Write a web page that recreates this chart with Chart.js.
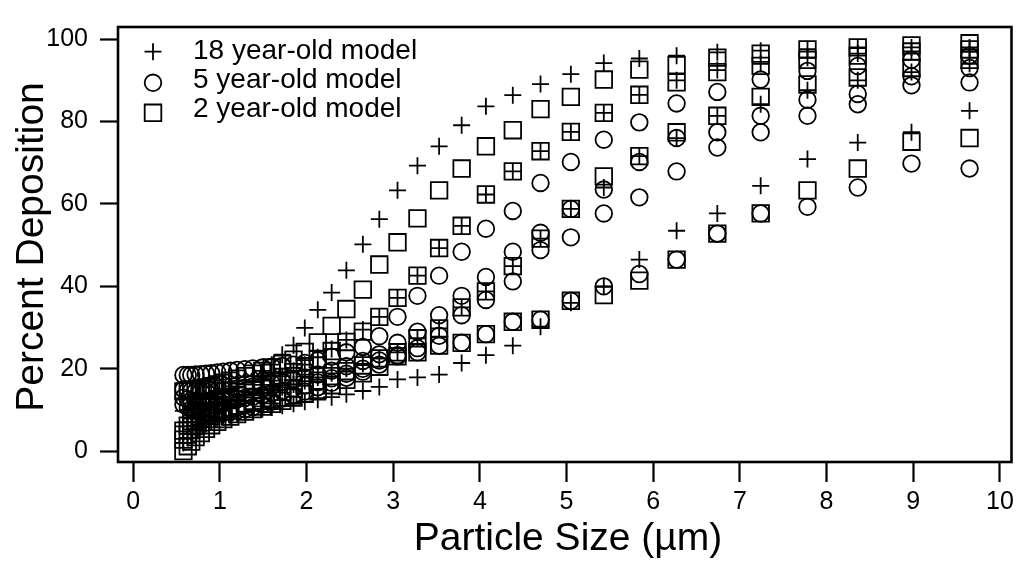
<!DOCTYPE html>
<html>
<head>
<meta charset="utf-8">
<script src="https://cdn.jsdelivr.net/npm/chart.js"></script>
<style>
  html, body { margin: 0; padding: 0; background: #fff; }
  #wrap { width: 1025px; height: 577px; }
</style>
</head>
<body>
<div id="wrap"><canvas id="depChart" width="1025" height="577"></canvas></div>
<script>
// particle sizes (um), same grid for every curve
const sizes = [0.58, 0.63, 0.67, 0.72, 0.78, 0.84, 0.90, 0.97, 1.04, 1.12, 1.20, 1.29, 1.38, 1.49, 1.60, 1.72, 1.85, 1.98, 2.13, 2.29, 2.46, 2.65, 2.84, 3.05, 3.28, 3.53, 3.79, 4.07, 4.38, 4.70, 5.05, 5.43, 5.84, 6.27, 6.74, 7.24, 7.78, 8.36, 8.98, 9.65];

// 18 year-old model (+)
const adultA = [12.8, 13.0, 13.2, 13.4, 13.6, 13.9, 14.2, 14.6, 15.1, 15.7, 16.4, 17.2, 18.2, 19.5, 21.0, 23.4, 25.7, 29.9, 34.3, 38.5, 43.9, 50.2, 56.3, 63.3, 69.3, 74.0, 79.1, 83.7, 86.4, 89.1, 91.5, 94.2, 95.3, 96.0, 96.8, 97.2, 97.6, 97.8, 98.0, 98.0];
const adultB = [9.8, 10.0, 10.3, 10.6, 10.9, 11.3, 11.7, 12.1, 12.6, 13.2, 13.8, 14.5, 15.2, 16.1, 17.1, 18.2, 19.5, 21.0, 22.8, 24.8, 27.0, 29.5, 32.6, 37.2, 42.6, 49.3, 54.7, 62.3, 67.9, 72.8, 77.5, 82.1, 86.5, 90.0, 92.5, 94.0, 95.5, 96.5, 97.0, 97.5];
const adultC = [6.0, 7.0, 7.9, 8.7, 9.4, 10.0, 10.6, 11.1, 11.6, 12.1, 12.6, 13.1, 13.6, 14.2, 14.8, 15.5, 16.2, 17.0, 17.9, 18.9, 20.0, 21.2, 22.5, 24.0, 27.4, 29.8, 34.9, 38.8, 44.9, 51.6, 58.8, 64.0, 71.6, 76.0, 81.4, 84.2, 87.6, 90.0, 92.0, 94.0];
const adultD = [2.0, 3.2, 4.2, 5.1, 5.9, 6.6, 7.2, 7.7, 8.2, 8.6, 9.0, 9.4, 9.8, 10.2, 10.6, 11.0, 11.5, 12.0, 12.5, 13.1, 13.8, 14.6, 15.6, 17.4, 17.9, 18.6, 21.4, 23.3, 25.6, 30.2, 36.0, 40.0, 46.5, 53.5, 57.7, 64.4, 70.9, 74.9, 77.4, 82.6];

// 5 year-old model (o)
const childA = [18.5, 18.5, 18.5, 18.6, 18.7, 18.8, 18.9, 19.1, 19.3, 19.5, 19.7, 19.9, 20.1, 20.3, 20.5, 20.7, 21.0, 21.4, 22.0, 22.9, 24.0, 25.3, 27.9, 32.6, 37.7, 42.6, 48.4, 54.0, 58.3, 65.1, 70.2, 75.6, 79.8, 84.4, 87.2, 90.2, 92.3, 93.5, 95.0, 96.0];
const childB = [15.0, 14.8, 14.6, 14.5, 14.5, 14.5, 14.6, 14.7, 14.8, 15.0, 15.2, 15.4, 15.7, 16.0, 16.4, 16.8, 17.3, 17.9, 18.6, 19.5, 20.6, 21.9, 23.5, 26.3, 29.0, 33.0, 37.7, 42.3, 48.4, 53.0, 58.8, 63.5, 70.2, 76.0, 77.4, 81.4, 85.3, 86.7, 91.0, 93.0];
const childC = [13.0, 12.6, 12.3, 12.1, 12.0, 12.0, 12.0, 12.1, 12.2, 12.4, 12.6, 12.9, 13.2, 13.6, 14.1, 14.6, 15.2, 15.9, 16.7, 17.7, 18.8, 20.0, 22.0, 23.3, 25.0, 28.0, 33.0, 36.7, 41.2, 48.8, 51.9, 57.7, 61.6, 67.9, 73.7, 77.4, 81.4, 84.2, 88.8, 89.5];
const childD = [11.3, 10.7, 10.2, 9.8, 9.5, 9.3, 9.2, 9.2, 9.3, 9.5, 9.8, 10.2, 10.7, 11.3, 12.0, 12.8, 13.6, 14.5, 15.5, 16.6, 17.8, 19.3, 21.0, 23.0, 24.0, 25.6, 26.3, 28.4, 31.4, 31.9, 36.5, 40.0, 43.0, 46.5, 52.8, 57.7, 59.3, 64.0, 69.8, 68.6];

// 2 year-old model (square)
const infantA = [14.5, 14.6, 14.8, 15.0, 15.2, 15.5, 15.8, 16.2, 16.6, 17.1, 17.6, 18.2, 18.8, 19.5, 20.3, 21.2, 22.2, 24.1, 26.4, 30.4, 34.5, 39.2, 45.3, 50.7, 56.5, 63.3, 68.6, 74.0, 77.9, 83.0, 86.0, 90.2, 92.6, 93.7, 95.5, 96.5, 97.5, 98.0, 98.5, 99.0];
const infantB = [5.0, 6.2, 7.3, 8.2, 9.0, 9.8, 10.6, 11.3, 12.0, 12.7, 13.4, 14.2, 15.0, 16.0, 17.0, 18.0, 19.2, 20.6, 22.3, 24.3, 26.5, 29.0, 32.6, 37.2, 42.6, 49.3, 54.7, 62.3, 67.9, 72.8, 77.5, 82.1, 86.5, 89.5, 92.0, 93.5, 95.0, 96.0, 97.0, 97.5];
const infantC = [2.8, 4.0, 5.1, 6.1, 7.0, 7.8, 8.5, 9.2, 9.8, 10.4, 11.0, 11.6, 12.2, 12.9, 13.6, 14.4, 15.2, 16.1, 17.1, 18.2, 19.4, 20.8, 22.5, 24.0, 27.4, 29.8, 34.9, 38.8, 44.9, 51.6, 58.8, 66.7, 71.6, 77.4, 81.4, 86.0, 89.0, 90.7, 93.0, 95.0];
const infantD = [0.0, 1.2, 2.3, 3.4, 4.4, 5.4, 6.3, 7.1, 7.8, 8.4, 9.0, 9.6, 10.2, 10.8, 11.5, 12.2, 13.0, 13.9, 14.9, 16.0, 17.3, 18.9, 20.5, 23.0, 24.0, 25.6, 26.3, 28.4, 31.4, 31.9, 36.5, 37.9, 41.4, 46.5, 52.8, 57.7, 63.3, 68.6, 75.1, 76.0];

const modelNames = ['18 year-old model', '5 year-old model', '2 year-old model'];
const xTicks = [0, 1, 2, 3, 4, 5, 6, 7, 8, 9, 10];
const yTicks = [0, 20, 40, 60, 80, 100];

const FONT = '"Liberation Sans", Arial, sans-serif';
const STROKE = 1.8;

// turn curves into {x, y} points on the size grid
function toPoints(...curves) {
  const out = [];
  curves.forEach(ys => ys.forEach((y, i) => out.push({ x: sizes[i], y: y })));
  return out;
}

function markerSet(label, style, radius, data) {
  return {
    label: label,
    data: data,
    pointStyle: style,
    pointRadius: radius,
    pointHoverRadius: radius,
    pointBorderWidth: STROKE,
    pointBorderColor: '#000',
    pointBackgroundColor: 'rgba(0,0,0,0)',
    borderColor: '#000',
    backgroundColor: 'rgba(0,0,0,0)',
    showLine: false
  };
}

// legend, axis titles and frame drawn by hand
const decorations = {
  id: 'decorations',
  afterDraw(chart) {
    const ctx = chart.ctx;
    const area = chart.chartArea;
    ctx.save();

    // frame
    ctx.strokeStyle = '#000';
    ctx.lineWidth = 2.6;
    ctx.strokeRect(area.left, area.top, area.right - area.left, area.bottom - area.top);

    // legend
    const rows = [51.7, 82.8, 112.8];
    const mx = 153;
    ctx.lineWidth = STROKE;
    rows.forEach((y, i) => {
      ctx.beginPath();
      if (i === 0) {
        ctx.moveTo(mx - 8.5, y); ctx.lineTo(mx + 8.5, y);
        ctx.moveTo(mx, y - 8.5); ctx.lineTo(mx, y + 8.5);
      } else if (i === 1) {
        ctx.arc(mx, y, 8.3, 0, Math.PI * 2);
      } else {
        ctx.rect(mx - 8.3, y - 8.3, 16.6, 16.6);
      }
      ctx.stroke();
    });
    ctx.fillStyle = '#000';
    ctx.font = '28px ' + FONT;
    ctx.textAlign = 'left';
    ctx.textBaseline = 'alphabetic';
    const baselines = [59.3, 88.3, 117.0];
    modelNames.forEach((name, i) => ctx.fillText(name, 193, baselines[i]));

    // axis titles
    ctx.font = '39px ' + FONT;
    ctx.textAlign = 'center';
    ctx.fillText('Particle Size (\u00b5m)', 568, 550);
    ctx.translate(43, 247);
    ctx.rotate(-Math.PI / 2);
    ctx.fillText('Percent Deposition', 0, 0);

    ctx.restore();
  }
};

const ctx = document.getElementById('depChart').getContext('2d');
new Chart(ctx, {
  type: 'scatter',
  data: {
    datasets: [
      markerSet(modelNames[0], 'cross', 8.5, toPoints(adultA, adultB, adultC, adultD)),
      markerSet(modelNames[1], 'circle', 8.3, toPoints(childA, childB, childC, childD)),
      markerSet(modelNames[2], 'rect', 11.7, toPoints(infantA, infantB, infantC, infantD))
    ]
  },
  options: {
    responsive: false,
    animation: false,
    devicePixelRatio: 1,
    layout: { padding: { top: 8, right: 8, left: 0, bottom: 0 } },
    plugins: {
      legend: { display: false },
      tooltip: { enabled: false }
    },
    scales: {
      x: {
        type: 'linear',
        min: -0.175,
        max: 10.134,
        afterBuildTicks: s => { s.ticks = xTicks.map(v => ({ value: v })); },
        afterFit: s => { s.height = 115; },
        border: { display: false },
        grid: {
          drawOnChartArea: false,
          drawTicks: true,
          tickLength: 20,
          tickWidth: 2.2,
          tickColor: '#000'
        },
        ticks: {
          color: '#000',
          padding: 5,
          maxRotation: 0,
          autoSkip: false,
          font: { family: FONT, size: 25 }
        }
      },
      y: {
        type: 'linear',
        min: -2.63,
        max: 102.95,
        afterBuildTicks: s => { s.ticks = yTicks.map(v => ({ value: v })); },
        afterFit: s => { s.width = 118; },
        border: { display: false },
        grid: {
          drawOnChartArea: false,
          drawTicks: true,
          tickLength: 18,
          tickWidth: 2.2,
          tickColor: '#000'
        },
        ticks: {
          color: '#000',
          padding: 12,
          font: { family: FONT, size: 25 }
        }
      }
    }
  },
  plugins: [decorations]
});
</script>
</body>
</html>
